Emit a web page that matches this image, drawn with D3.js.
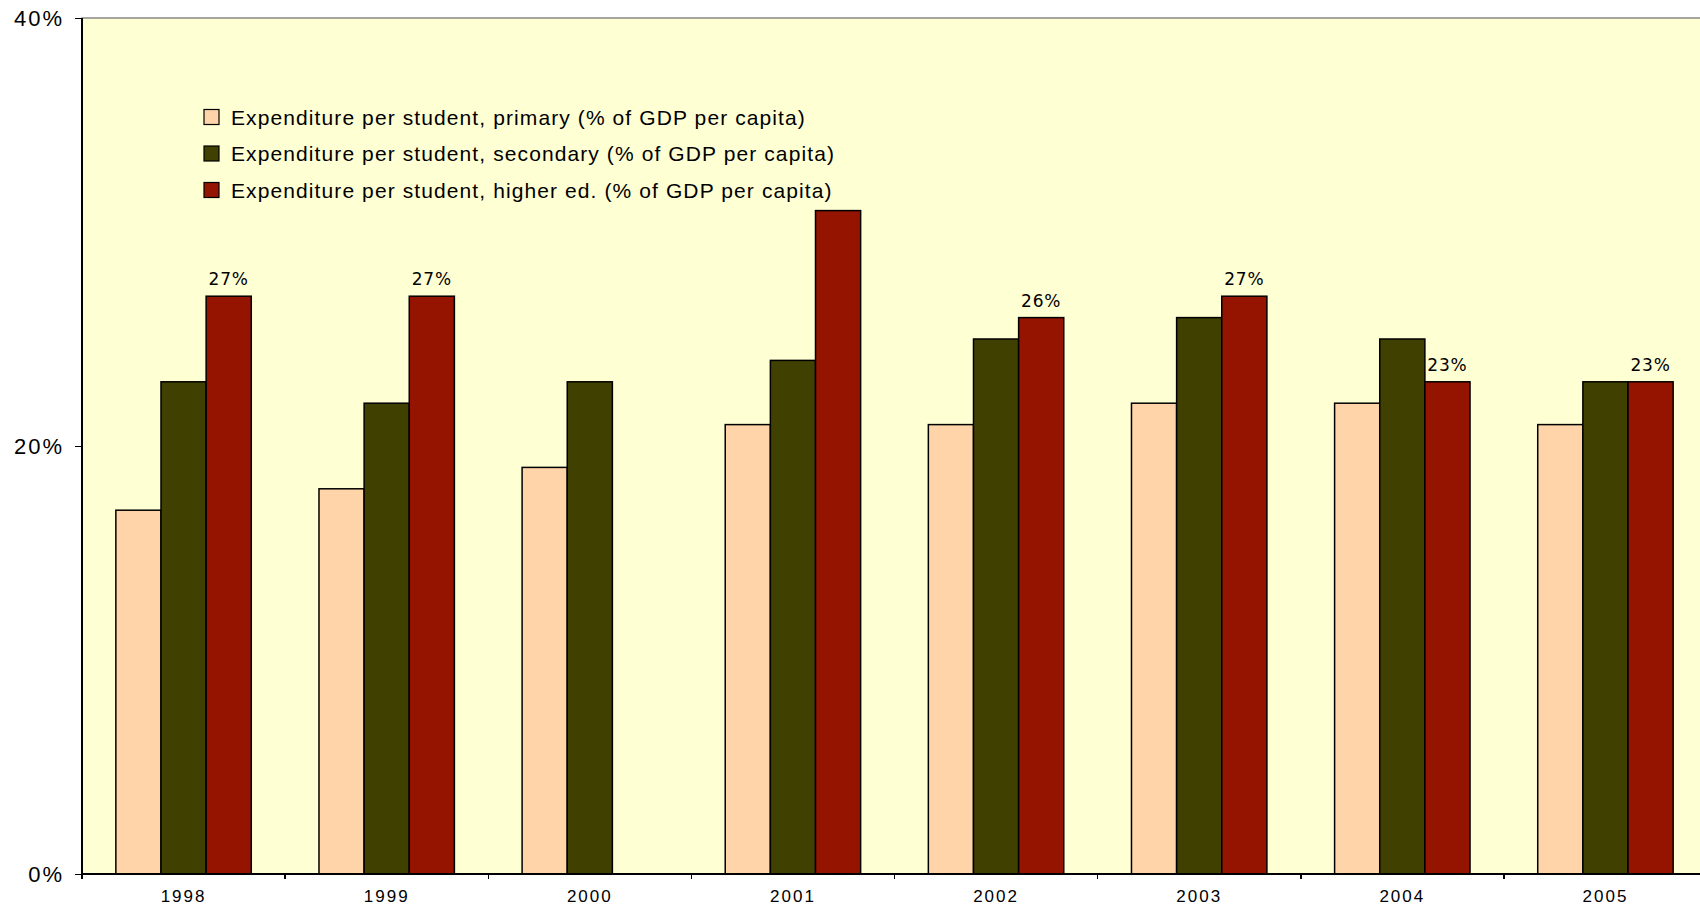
<html>
  <head>
    <title>expenditure per student</title>
    <style>
      body { margin: 0; background: #fff; }
      .axis text { font-family: "Liberation Sans", Arial, sans-serif; fill: #000; }
      .axis path, .axis line { stroke: #000; shape-rendering: crispEdges; }
      .legend text { font: 21px "Liberation Sans", Arial, sans-serif; letter-spacing: 1.1px; fill: #000; }
      .lbl { font: 17px "DejaVu Sans", Verdana, sans-serif; letter-spacing: 0.8px; fill: #000; text-anchor: middle; }
    </style>
    <script src="https://d3js.org/d3.v7.min.js"></script>
  </head>
  <body>
    <svg class="chart"></svg>
    <script>

var years = ["1998", "1999", "2000", "2001", "2002", "2003", "2004", "2005"];
var primary = [17, 18, 19, 21, 21, 22, 22, 21];
var secondary = [23, 22, 23, 24, 25, 26, 25, 23];
var higher = [27, 27, null, 31, 26, 27, 23, 23];
var showHigherLabel = [true, true, false, false, true, true, true, true];
var seriesNames = [
  "Expenditure per student, primary (% of GDP per capita)",
  "Expenditure per student, secondary (% of GDP per capita)",
  "Expenditure per student, higher ed. (% of GDP per capita)"
];
var colors = ["#ffd4a8", "#404000", "#941400"];
var yTicks = [0, 20, 40];

var width = 1700, height = 909;
var pLeft = 82, pRight = 1707, pTop = 18, pBottom = 874;

var svg = d3.select(".chart")
    .attr("width", width)
    .attr("height", height);

var x0 = d3.scaleBand().domain(years).range([pLeft, pRight]).padding(0);
var x1 = d3.scaleBand().domain([0, 1, 2]).range([0, x0.bandwidth()])
    .paddingInner(0).paddingOuter(0.75);
var y = d3.scaleLinear().domain([0, 40]).range([pBottom, pTop]);

// plot background
svg.append("rect")
    .attr("x", pLeft).attr("y", pTop)
    .attr("width", pRight - pLeft).attr("height", pBottom - pTop)
    .attr("fill", "#ffffd4")
    .attr("stroke", "#888").attr("stroke-width", 1.5);

var series = [primary, secondary, higher];
var rows = years.map(function(yr, i) {
  return { year: yr, i: i, vals: series.map(function(s, k) { return { k: k, v: s[i] }; }) };
});

var g = svg.selectAll("g.grp")
    .data(rows)
  .enter().append("g")
    .attr("class", "grp")
    .attr("transform", function(d) { return "translate(" + x0(d.year) + ",0)"; });

g.selectAll("rect")
    .data(function(d) { return d.vals.filter(function(e) { return e.v != null; }); })
  .enter().append("rect")
    .attr("x", function(e) { return x1(e.k); })
    .attr("y", function(e) { return y(e.v); })
    .attr("width", x1.bandwidth())
    .attr("height", function(e) { return y(0) - y(e.v); })
    .attr("fill", function(e) { return colors[e.k]; })
    .attr("stroke", "#000")
    .attr("stroke-width", 1.5);

g.filter(function(d) { return showHigherLabel[d.i] && higher[d.i] != null; })
  .append("text")
    .attr("class", "lbl")
    .attr("x", x1(2) + x1.bandwidth() / 2)
    .attr("y", function(d) { return y(higher[d.i]) - 11; })
    .text(function(d) { return higher[d.i] + "%"; });

// y axis
var yAxis = d3.axisLeft(y).tickValues(yTicks).tickSize(7).tickPadding(11)
    .tickFormat(function(d) { return d + "%"; });
var ya = svg.append("g").attr("class", "axis")
    .attr("transform", "translate(" + pLeft + ",0)")
    .call(yAxis);
ya.select(".domain").attr("stroke-width", 2).attr("d", "M0," + pTop + "V" + (pBottom + 5));
ya.selectAll("line").attr("stroke-width", 1.5);
ya.selectAll("text").style("font-size", "22px").style("letter-spacing", "2px");

// x axis: ticks on category boundaries
var xa = svg.append("g").attr("class", "axis")
    .attr("transform", "translate(0," + pBottom + ")");
xa.append("line").attr("x1", pLeft).attr("x2", width).attr("stroke-width", 2);
xa.selectAll("line.tk")
    .data(years)
  .enter().append("line")
    .attr("class", "tk")
    .attr("x1", function(d) { return x0(d); })
    .attr("x2", function(d) { return x0(d); })
    .attr("y1", 0).attr("y2", 5)
    .attr("stroke-width", 1.5);
xa.selectAll("text")
    .data(years)
  .enter().append("text")
    .attr("x", function(d) { return x0(d) + x0.bandwidth() / 2; })
    .attr("y", 28)
    .attr("text-anchor", "middle")
    .style("font-size", "17px")
    .style("letter-spacing", "2px")
    .text(function(d) { return d; });

// legend
var leg = svg.append("g").attr("class", "legend")
    .selectAll("g")
    .data(seriesNames)
  .enter().append("g")
    .attr("transform", function(d, i) { return "translate(204," + (117 + i * 36.5) + ")"; });
leg.append("rect")
    .attr("x", 0).attr("y", -7.5)
    .attr("width", 15).attr("height", 15)
    .attr("fill", function(d, i) { return colors[i]; })
    .attr("stroke", "#000").attr("stroke-width", 1.2);
leg.append("text")
    .attr("x", 27).attr("y", 7.5)
    .text(function(d) { return d; });

    </script>
  </body>
</html>
